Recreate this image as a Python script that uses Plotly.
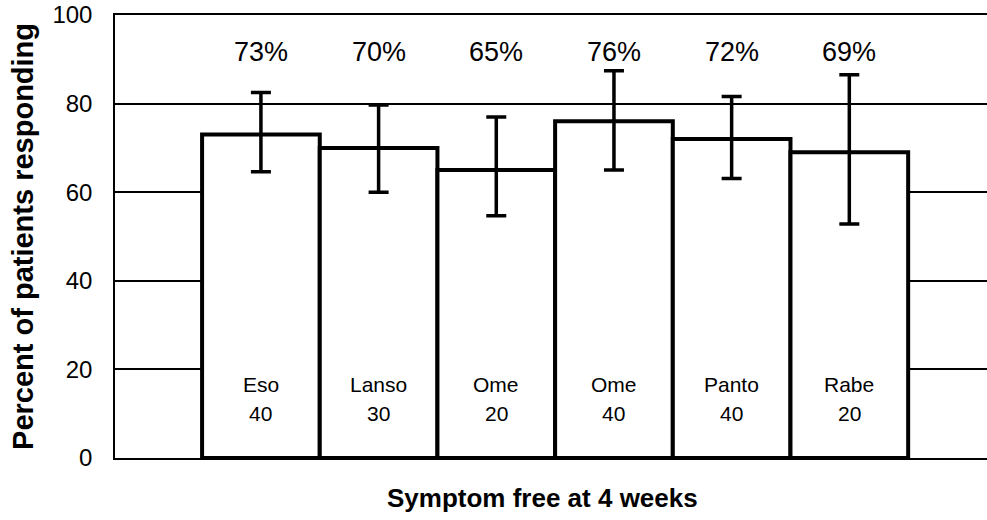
import plotly.graph_objects as go

drugs = ["Eso", "Lanso", "Ome", "Ome", "Panto", "Rabe"]
doses = ["40", "30", "20", "40", "40", "20"]
percent = [73, 70, 65, 76, 72, 69]
ci_upper = [82.5, 79.7, 77.0, 87.4, 81.6, 86.5]
ci_lower = [64.6, 60.0, 54.7, 65.0, 63.1, 52.8]
y_ticks = [0, 20, 40, 60, 80, 100]
x_title = "Symptom free at 4 weeks"
y_title = "Percent of patients responding"

xpos = list(range(len(drugs)))
err_plus = [u - p for u, p in zip(ci_upper, percent)]
err_minus = [p - l for p, l in zip(percent, ci_lower)]

FONT = "Liberation Sans, Arial, sans-serif"

fig = go.Figure()
fig.add_trace(go.Bar(
    x=xpos, y=percent, width=1.0,
    marker=dict(color="white", line=dict(color="black", width=4)),
    error_y=dict(type="data", array=err_plus, arrayminus=err_minus,
                 color="black", thickness=3.5, width=10, visible=True),
    showlegend=False, hoverinfo="skip",
))

annotations = []
for i in xpos:
    annotations.append(dict(x=i, y=91.6, xref="x", yref="y", text=f"{percent[i]}%",
                            showarrow=False, font=dict(family=FONT, size=27, color="black")))
    annotations.append(dict(x=i, y=16.6, xref="x", yref="y", text=drugs[i],
                            showarrow=False, font=dict(family=FONT, size=21, color="black")))
    annotations.append(dict(x=i, y=10.0, xref="x", yref="y", text=doses[i],
                            showarrow=False, font=dict(family=FONT, size=21, color="black")))

annotations.append(dict(x=0.4897, y=-0.0903, xref="paper", yref="paper",
                        text=f"<b>{x_title}</b>", showarrow=False,
                        xanchor="center", yanchor="middle",
                        font=dict(family=FONT, size=26, color="black")))
annotations.append(dict(x=-0.1055, y=0.499, xref="paper", yref="paper",
                        text=f"<b>{y_title}</b>", showarrow=False, textangle=-90,
                        xanchor="center", yanchor="middle",
                        font=dict(family=FONT, size=29, color="black")))

fig.update_layout(
    width=987, height=520,
    margin=dict(l=115, r=0, t=15, b=62),
    paper_bgcolor="white", plot_bgcolor="white",
    font=dict(family=FONT, color="black"),
    annotations=annotations,
    xaxis=dict(range=[-1.24, 6.17], showticklabels=False, ticks="",
               showgrid=False, zeroline=False, automargin=False,
               showline=True, mirror=True, linecolor="black", linewidth=2),
    yaxis=dict(range=[0, 100], tickvals=y_ticks, ticks="", automargin=False,
               showgrid=True, gridcolor="black", gridwidth=1.5,
               zeroline=False, showline=True, linecolor="black", linewidth=1.5,
               tickfont=dict(family=FONT, size=24, color="black"),
               ticklabelstandoff=16),
)

fig.write_html("out.html", config={"displayModeBar": False},
               post_script="document.body.style.margin='0';document.body.style.overflow='hidden';")
